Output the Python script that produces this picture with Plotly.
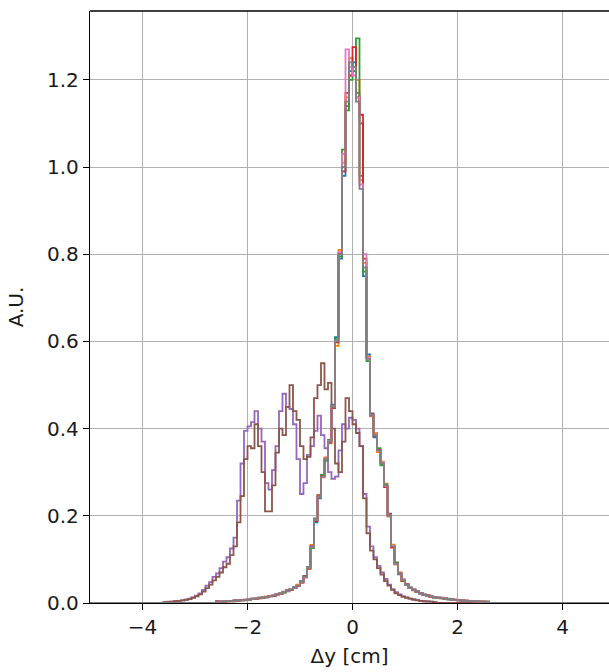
import numpy as np
import plotly.graph_objects as go

# ---------------- data ----------------
BIN_WIDTH = 1 / 15          # histogram bin width [cm]
X_MIN, X_MAX = -5.0, 5.0    # histogram range
CENTRAL_START = -2.6        # first stored bin edge of the narrow distributions
MULTI_START = -3.6          # first stored bin edge of the multi-peak distributions

series_colors = ["#1f77b4", "#ff7f0e", "#2ca02c", "#d62728",
                 "#9467bd", "#8c564b", "#e377c2", "#7f7f7f"]

blue = [0.003, 0.004, 0.003, 0.004, 0.005, 0.006, 0.005, 0.007, 0.007, 0.008,
        0.010, 0.009, 0.011, 0.013, 0.013, 0.016, 0.017, 0.020, 0.021, 0.026,
        0.027, 0.032, 0.036, 0.041, 0.050, 0.062, 0.083, 0.128, 0.185, 0.240,
        0.292, 0.328, 0.372, 0.455, 0.610, 0.790, 0.980, 1.140, 1.220, 1.240,
        1.170, 1.100, 0.750, 0.570, 0.435, 0.380, 0.352, 0.318, 0.268, 0.205,
        0.128, 0.092, 0.066, 0.054, 0.041, 0.036, 0.029, 0.027, 0.021, 0.020,
        0.016, 0.015, 0.014, 0.011, 0.012, 0.010, 0.008, 0.008, 0.007, 0.006,
        0.005, 0.005, 0.004, 0.004, 0.004, 0.003, 0.003, 0.002]

orange = [0.002, 0.003, 0.004, 0.004, 0.004, 0.005, 0.006, 0.006, 0.008, 0.008,
          0.009, 0.011, 0.010, 0.012, 0.015, 0.015, 0.018, 0.019, 0.023, 0.024,
          0.029, 0.030, 0.034, 0.042, 0.047, 0.058, 0.078, 0.133, 0.192, 0.248,
          0.288, 0.334, 0.366, 0.448, 0.590, 0.810, 1.010, 1.160, 1.250, 1.220,
          1.200, 0.970, 0.780, 0.565, 0.428, 0.390, 0.346, 0.324, 0.274, 0.198,
          0.134, 0.088, 0.070, 0.050, 0.043, 0.034, 0.031, 0.025, 0.023, 0.018,
          0.018, 0.014, 0.013, 0.013, 0.010, 0.011, 0.009, 0.007, 0.008, 0.006,
          0.007, 0.005, 0.005, 0.004, 0.003, 0.004, 0.003, 0.003]

green = [0.003, 0.003, 0.004, 0.005, 0.005, 0.004, 0.006, 0.007, 0.006, 0.009,
         0.009, 0.010, 0.012, 0.011, 0.014, 0.016, 0.016, 0.020, 0.022, 0.024,
         0.029, 0.031, 0.035, 0.039, 0.049, 0.061, 0.082, 0.126, 0.194, 0.243,
         0.294, 0.326, 0.374, 0.452, 0.605, 0.795, 1.040, 1.130, 1.200, 1.220,
         1.295, 0.980, 0.760, 0.555, 0.432, 0.383, 0.355, 0.316, 0.272, 0.202,
         0.131, 0.093, 0.067, 0.051, 0.043, 0.035, 0.030, 0.026, 0.023, 0.019,
         0.017, 0.016, 0.012, 0.012, 0.011, 0.009, 0.010, 0.008, 0.007, 0.007,
         0.006, 0.005, 0.005, 0.004, 0.004, 0.003, 0.003, 0.003]

red = [0.004, 0.003, 0.003, 0.005, 0.004, 0.006, 0.005, 0.007, 0.007, 0.007,
       0.010, 0.009, 0.012, 0.012, 0.013, 0.016, 0.016, 0.020, 0.021, 0.025,
       0.029, 0.030, 0.036, 0.039, 0.047, 0.061, 0.079, 0.131, 0.188, 0.247,
       0.291, 0.331, 0.368, 0.447, 0.598, 0.802, 0.990, 1.170, 1.210, 1.275,
       1.160, 1.120, 0.790, 0.562, 0.433, 0.384, 0.351, 0.321, 0.266, 0.203,
       0.127, 0.091, 0.069, 0.051, 0.043, 0.034, 0.031, 0.025, 0.023, 0.018,
       0.018, 0.014, 0.014, 0.011, 0.011, 0.010, 0.009, 0.008, 0.007, 0.006,
       0.006, 0.006, 0.004, 0.005, 0.004, 0.003, 0.003, 0.002]

purple = [0.002, 0.003, 0.003, 0.004, 0.005, 0.006, 0.008, 0.010, 0.013, 0.017,
          0.022, 0.030, 0.040, 0.048, 0.060, 0.068, 0.080, 0.095, 0.105, 0.125,
          0.150, 0.235, 0.320, 0.395, 0.405, 0.415, 0.440, 0.400, 0.370, 0.275,
          0.260, 0.305, 0.360, 0.440, 0.480, 0.450, 0.445, 0.410, 0.330, 0.250,
          0.275, 0.340, 0.360, 0.395, 0.430, 0.385, 0.355, 0.300, 0.285, 0.290,
          0.350, 0.410, 0.400, 0.425, 0.420, 0.400, 0.360, 0.250, 0.175, 0.130,
          0.105, 0.085, 0.070, 0.055, 0.042, 0.032, 0.025, 0.020, 0.016, 0.013,
          0.010, 0.008, 0.007, 0.005, 0.004, 0.004, 0.003, 0.002]

brown = [0.002, 0.002, 0.003, 0.004, 0.005, 0.006, 0.007, 0.009, 0.012, 0.015,
         0.020, 0.026, 0.034, 0.042, 0.052, 0.060, 0.070, 0.082, 0.090, 0.110,
         0.130, 0.185, 0.245, 0.330, 0.360, 0.355, 0.410, 0.360, 0.300, 0.210,
         0.210, 0.270, 0.345, 0.400, 0.385, 0.450, 0.500, 0.440, 0.420, 0.360,
         0.330, 0.335, 0.380, 0.470, 0.500, 0.550, 0.490, 0.505, 0.400, 0.320,
         0.300, 0.370, 0.470, 0.440, 0.410, 0.390, 0.360, 0.240, 0.160, 0.120,
         0.100, 0.080, 0.065, 0.050, 0.040, 0.030, 0.022, 0.018, 0.014, 0.012,
         0.010, 0.008, 0.006, 0.005, 0.004, 0.003, 0.003, 0.002]

pink = [0.003, 0.004, 0.004, 0.004, 0.005, 0.005, 0.006, 0.006, 0.007, 0.008,
        0.009, 0.010, 0.011, 0.012, 0.014, 0.015, 0.018, 0.019, 0.022, 0.025,
        0.028, 0.032, 0.035, 0.040, 0.048, 0.059, 0.081, 0.129, 0.191, 0.244,
        0.289, 0.331, 0.371, 0.451, 0.602, 0.805, 1.030, 1.270, 1.230, 1.210,
        1.160, 0.960, 0.800, 0.563, 0.431, 0.386, 0.349, 0.322, 0.269, 0.201,
        0.131, 0.089, 0.068, 0.053, 0.042, 0.035, 0.030, 0.026, 0.022, 0.019,
        0.017, 0.015, 0.013, 0.012, 0.011, 0.010, 0.009, 0.008, 0.007, 0.006,
        0.006, 0.005, 0.005, 0.004, 0.004, 0.003, 0.003, 0.003]

gray = [0.003, 0.003, 0.004, 0.004, 0.005, 0.005, 0.006, 0.006, 0.007, 0.008,
        0.009, 0.010, 0.011, 0.012, 0.014, 0.015, 0.017, 0.019, 0.022, 0.025,
        0.028, 0.031, 0.035, 0.040, 0.048, 0.060, 0.080, 0.130, 0.190, 0.245,
        0.290, 0.330, 0.370, 0.450, 0.600, 0.800, 1.000, 1.150, 1.240, 1.230,
        1.150, 0.950, 0.770, 0.560, 0.430, 0.385, 0.350, 0.320, 0.270, 0.200,
        0.130, 0.090, 0.068, 0.052, 0.042, 0.035, 0.030, 0.026, 0.022, 0.019,
        0.017, 0.015, 0.013, 0.012, 0.011, 0.010, 0.009, 0.008, 0.007, 0.006,
        0.006, 0.005, 0.005, 0.004, 0.004, 0.003, 0.003, 0.003]

series = [
    (blue, CENTRAL_START), (orange, CENTRAL_START), (green, CENTRAL_START),
    (red, CENTRAL_START), (purple, MULTI_START), (brown, MULTI_START),
    (pink, CENTRAL_START), (gray, CENTRAL_START),
]

x_ticks = [-4, -2, 0, 2, 4]
y_ticks = [0.0, 0.2, 0.4, 0.6, 0.8, 1.0, 1.2]


def step_xy(start, values):
    n = len(values)
    edges = start + BIN_WIDTH * np.arange(n + 1)
    xs = [X_MIN, edges[0]] + list(edges[:-1]) + [edges[-1], edges[-1], X_MAX]
    ys = [0, 0] + list(values) + [values[-1], 0, 0]
    return xs, ys


fig = go.Figure()
for (vals, start), col in zip(series, series_colors):
    xs, ys = step_xy(start, vals)
    fig.add_trace(go.Scatter(x=xs, y=ys, mode="lines",
                             line=dict(color=col, width=1.8, shape="hv"),
                             showlegend=False, hoverinfo="skip"))

font = dict(family="DejaVu Sans", size=20, color="#1a1a1a")
fig.update_layout(
    width=609, height=672,
    margin=dict(l=90, r=0, t=11, b=69),
    plot_bgcolor="white", paper_bgcolor="white",
    font=font,
    xaxis=dict(range=[-5, 4.886], tickvals=x_ticks, ticks="outside", ticklen=6,
               tickwidth=1.3, tickcolor="black", showline=True, linecolor="black",
               linewidth=1.3, showgrid=True, gridcolor="#b0b0b0", gridwidth=1.3,
               zeroline=False, tickfont=font, automargin=False,
               title=dict(text="Δy [cm]", font=font, standoff=10)),
    yaxis=dict(range=[0, 1.358], tickvals=y_ticks, tickformat=".1f",
               ticks="outside", ticklen=6, tickwidth=1.3, tickcolor="black",
               showline=True, linecolor="black", linewidth=1.3, showgrid=True,
               gridcolor="#b0b0b0", gridwidth=1.3, zeroline=False, tickfont=font,
               automargin=False,
               title=dict(text="A.U.", font=font, standoff=18)),
    shapes=[dict(type="line", xref="paper", yref="paper", x0=0, x1=1, y0=1, y1=1,
                 line=dict(color="black", width=1.3))],
)

fig.write_html("out.html")
